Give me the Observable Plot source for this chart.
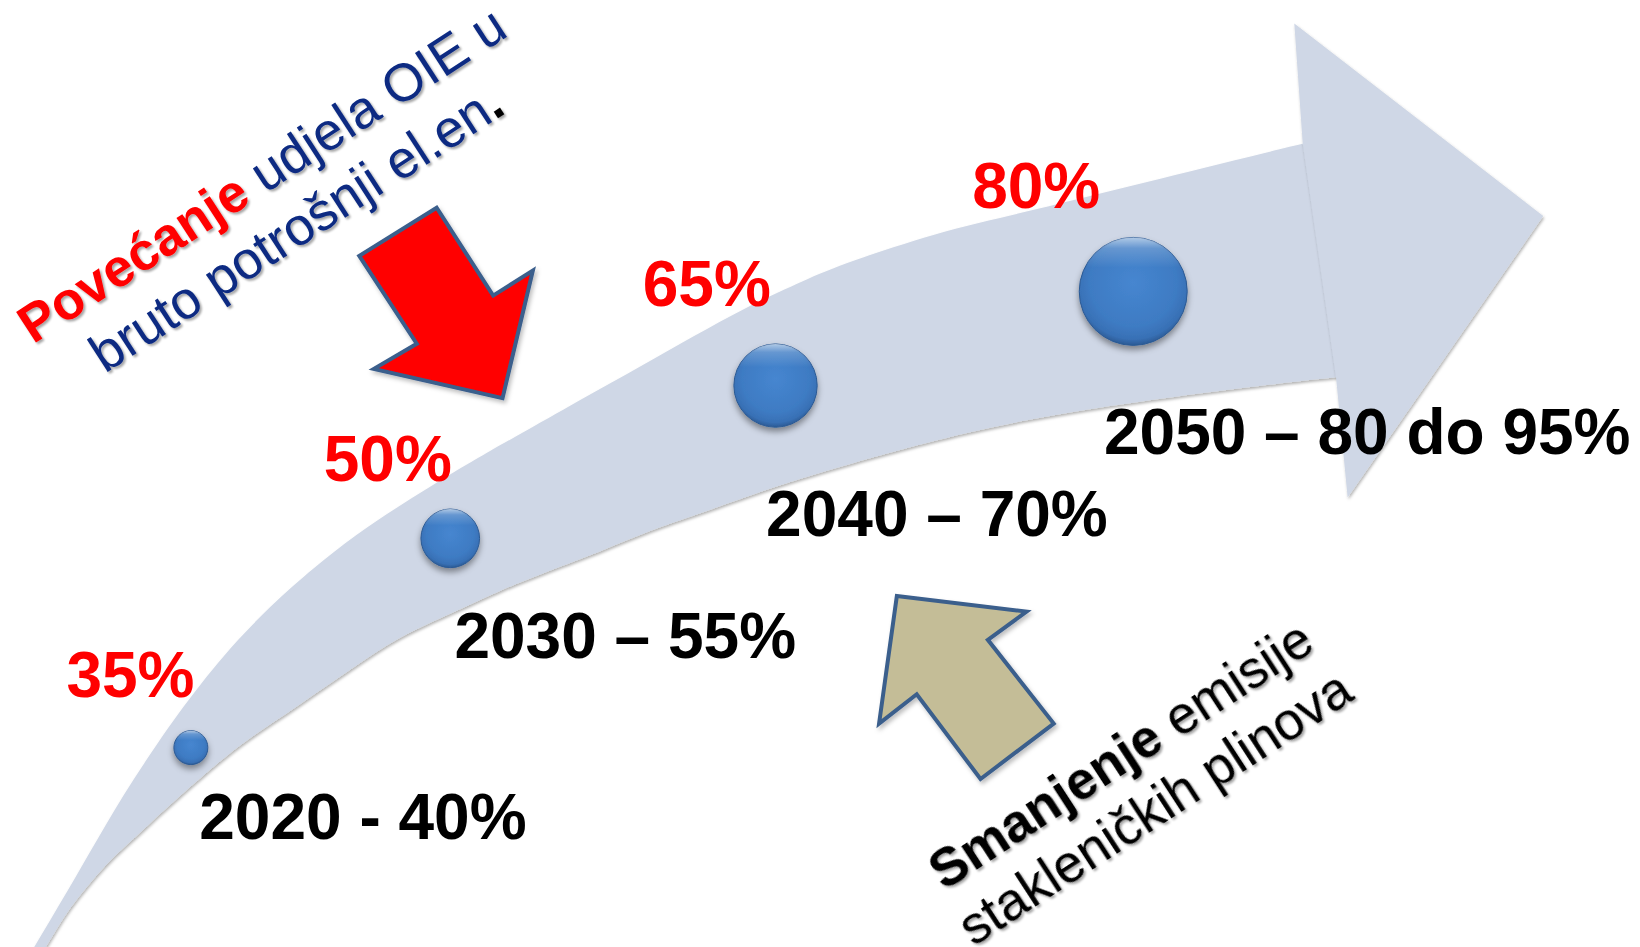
<!DOCTYPE html>
<html><head><meta charset="utf-8">
<script src="https://cdn.jsdelivr.net/npm/d3@7"></script>
<script src="https://cdn.jsdelivr.net/npm/@observablehq/plot@0.6"></script>
<style>
html,body{margin:0;padding:0;background:#fff;}
#chart{width:1640px;height:947px;overflow:hidden;}
#chart svg{display:block;}
</style></head><body><div id="chart"></div>
<script>
// ---- data (positions in reference-image units, mapped by Plot scales) ----
const years = [2020, 2030, 2040, 2050];
const oieShare = [35, 50, 65, 80];                       // % renewables in gross electricity consumption
const ghgTarget = ["2020 - 40%", "2030 – 55%", "2040 – 70%", "2050 – 80 do 95%"];
const ballX = [182, 430, 741, 1083];
const ballY = [714, 514, 368, 278];
const shareLabelX = [63, 309, 614, 929];
const shareLabelY = [666, 459, 292, 198];
const targetLabelX = [190, 434, 732, 1055];
const targetLabelY = [801, 628, 512, 433];

// curved arrow body: upper edge, turn, lower edge
const bandX = [14, 32, 64, 93, 127, 175, 220, 265, 299, 340, 380, 433, 462, 538, 599, 650, 701, 750, 796, 892, 988, 1110, 1245, 1281,
               1320,
               1310, 1277, 1052, 925, 765, 669, 621, 574, 538, 478, 443, 382, 335, 287, 229, 182, 139, 100, 67, 43, 26];
const bandY = [935, 905, 851, 801, 745, 675, 619, 573, 543, 511, 484, 451, 434, 391, 357, 328, 300, 276, 256, 224, 200, 170, 137, 129,
               240,
               358, 360, 389, 413, 457, 490, 507, 526, 540, 564, 580, 609, 639, 672, 712, 751, 790, 827, 867, 905, 932];
// arrow head
const headX = [1245, 1237, 1475, 1288, 1277];
const headY = [136, 22, 206, 475, 361];
// red "increase" arrow
const redArrowX = [343, 417, 471, 509, 480, 357, 398];
const redArrowY = [244, 198, 282, 258, 380, 352, 328];
// tan "reduction" arrow
const tanArrowX = [857, 981, 944, 1007, 937, 876, 840];
const tanArrowY = [569, 584, 611, 691, 744, 663, 691];
// rotated notes
const noteOIE = ["Povećanje udjela OIE u", "bruto potrošnji el.en."];
const noteGHG = ["Smanjenje emisije", "stakleničkih plinova"];
const noteX = [265, 1086];
const noteY = [190, 744];

// ---- tables ----
const pts = (xs, ys) => xs.map((x, i) => ({x, y: ys[i]}));
const band = pts(bandX, bandY);
const head = pts(headX, headY);
const redArrow = pts(redArrowX, redArrowY);
const tanArrow = pts(tanArrowX, tanArrowY);
const balls = years.map((yr, i) => ({year: yr, share: oieShare[i], x: ballX[i], y: ballY[i]}));
const shareLabels = years.map((yr, i) => ({t: oieShare[i] + "%", x: shareLabelX[i], y: shareLabelY[i]}));
const targetLabels = years.map((yr, i) => ({t: ghgTarget[i], x: targetLabelX[i], y: targetLabelY[i]}));
const notes = [
  {t: noteOIE.join("\n"), x: noteX[0], y: noteY[0], c: "#0a2a82"},
  {t: noteGHG.join("\n"), x: noteX[1], y: noteY[1], c: "#000000"}
];

const FONT = "Liberation Sans, Arial, sans-serif";
const bandColor = "#cfd7e6";
const outline = "#3b5e8c";

const svg = Plot.plot({
  width: 1640, height: 947, margin: 0,
  style: {background: "#ffffff", fontFamily: FONT},
  x: {domain: [0, 1568], range: [0, 1640], axis: null},
  y: {domain: [0, 905], range: [0, 947], axis: null},
  r: {type: "linear", domain: [35, 80], range: [17, 54]},
  marks: [
    Plot.line(band, {x: "x", y: "y", curve: "catmull-rom", fill: bandColor, stroke: "none"}),
    Plot.line(head, {x: "x", y: "y", curve: "linear-closed", fill: bandColor, stroke: "none"}),
    Plot.line(redArrow, {x: "x", y: "y", curve: "linear-closed", fill: "#ff0000", stroke: outline, strokeWidth: 4,
      strokeLinejoin: "miter", strokeMiterlimit: 10}),
    Plot.line(tanArrow, {x: "x", y: "y", curve: "linear-closed", fill: "#c4bd97", stroke: outline, strokeWidth: 4,
      strokeLinejoin: "miter", strokeMiterlimit: 10}),
    Plot.dot(balls, {x: "x", y: "y", r: "share", fill: "url(#ballFill)", stroke: "#2c5a94", strokeWidth: 1}),
    Plot.dot(balls, {x: "x", y: "y", r: "share", fill: "url(#ballGloss)", stroke: "none"}),
    Plot.text(shareLabels, {x: "x", y: "y", text: "t", fill: "#ff0000", fontSize: 64, fontWeight: "bold",
      fontFamily: FONT, textAnchor: "start", lineAnchor: "bottom"}),
    Plot.text(targetLabels, {x: "x", y: "y", text: "t", fill: "#000000", fontSize: 64, fontWeight: "bold",
      fontFamily: FONT, textAnchor: "start", lineAnchor: "bottom"}),
    Plot.text(notes, {x: "x", y: "y", text: "t", fill: "c", rotate: -33, fontSize: 53, fontFamily: FONT,
      lineHeight: 1.2, textAnchor: "middle", lineAnchor: "middle"})
  ]
});

// ---- defs: gradients and shadows ----
const s = d3.select(svg);
const markGroups = Array.from(svg.children).filter(n => n.tagName.toLowerCase() === "g");
const [gBand, gHead, gRed, gTan, gBalls, gGloss, gShare, gTarget, gNotes] = markGroups;
const defs = s.insert("defs", ":first-child");
const rg = defs.append("radialGradient").attr("id", "ballFill").attr("cx", "50%").attr("cy", "42%").attr("r", "58%");
[[0, "#4686d0"], [0.7, "#3e7bc3"], [0.9, "#3870b5"], [1, "#2b5a94"]].forEach(([o, c]) =>
  rg.append("stop").attr("offset", o).attr("stop-color", c));
const gl = defs.append("linearGradient").attr("id", "ballGloss").attr("x1", 0).attr("y1", 0).attr("x2", 0).attr("y2", 1);
[[0, 0.6], [0.1, 0.2], [0.28, 0]].forEach(([o, a]) =>
  gl.append("stop").attr("offset", o).attr("stop-color", "#ffffff").attr("stop-opacity", a));
function shadow(id, dx, dy, sd, op) {
  defs.append("filter").attr("id", id).attr("x", "-20%").attr("y", "-20%").attr("width", "140%").attr("height", "140%")
    .append("feDropShadow").attr("dx", dx).attr("dy", dy).attr("stdDeviation", sd)
    .attr("flood-color", "#000").attr("flood-opacity", op);
}
shadow("bandShadow", 1, 2, 1.5, 0.3);
shadow("ballShadow", 0, 4, 3, 0.4);
shadow("textShadow", 2, 2, 1.2, 0.35);
shadow("arrowShadow", 2, 3, 2, 0.25);
if (gBand) gBand.setAttribute("filter", "url(#bandShadow)");
if (gHead) gHead.setAttribute("filter", "url(#bandShadow)");
if (gBalls) gBalls.setAttribute("filter", "url(#ballShadow)");
if (gRed) gRed.setAttribute("filter", "url(#arrowShadow)");
if (gTan) gTan.setAttribute("filter", "url(#arrowShadow)");
if (gNotes) gNotes.setAttribute("filter", "url(#textShadow)");

// ---- mixed styling inside the rotated notes ----
d3.select(gNotes).selectAll("tspan").each(function () {
  const t = d3.select(this), txt = this.textContent;
  if (txt.startsWith("Povećanje")) {
    t.text(null);
    t.append("tspan").attr("font-weight", "bold").attr("fill", "#ff0000").text("Povećanje");
    t.append("tspan").text(txt.slice("Povećanje".length));
  } else if (txt.startsWith("Smanjenje")) {
    t.text(null);
    t.append("tspan").attr("font-weight", "bold").text("Smanjenje");
    t.append("tspan").text(txt.slice("Smanjenje".length));
  } else if (txt.endsWith("el.en.")) {
    t.text(null);
    t.append("tspan").text(txt.slice(0, -1));
    t.append("tspan").attr("font-weight", "bold").attr("fill", "#000").text(".");
  }
});

document.getElementById("chart").appendChild(svg);
</script></body></html>
